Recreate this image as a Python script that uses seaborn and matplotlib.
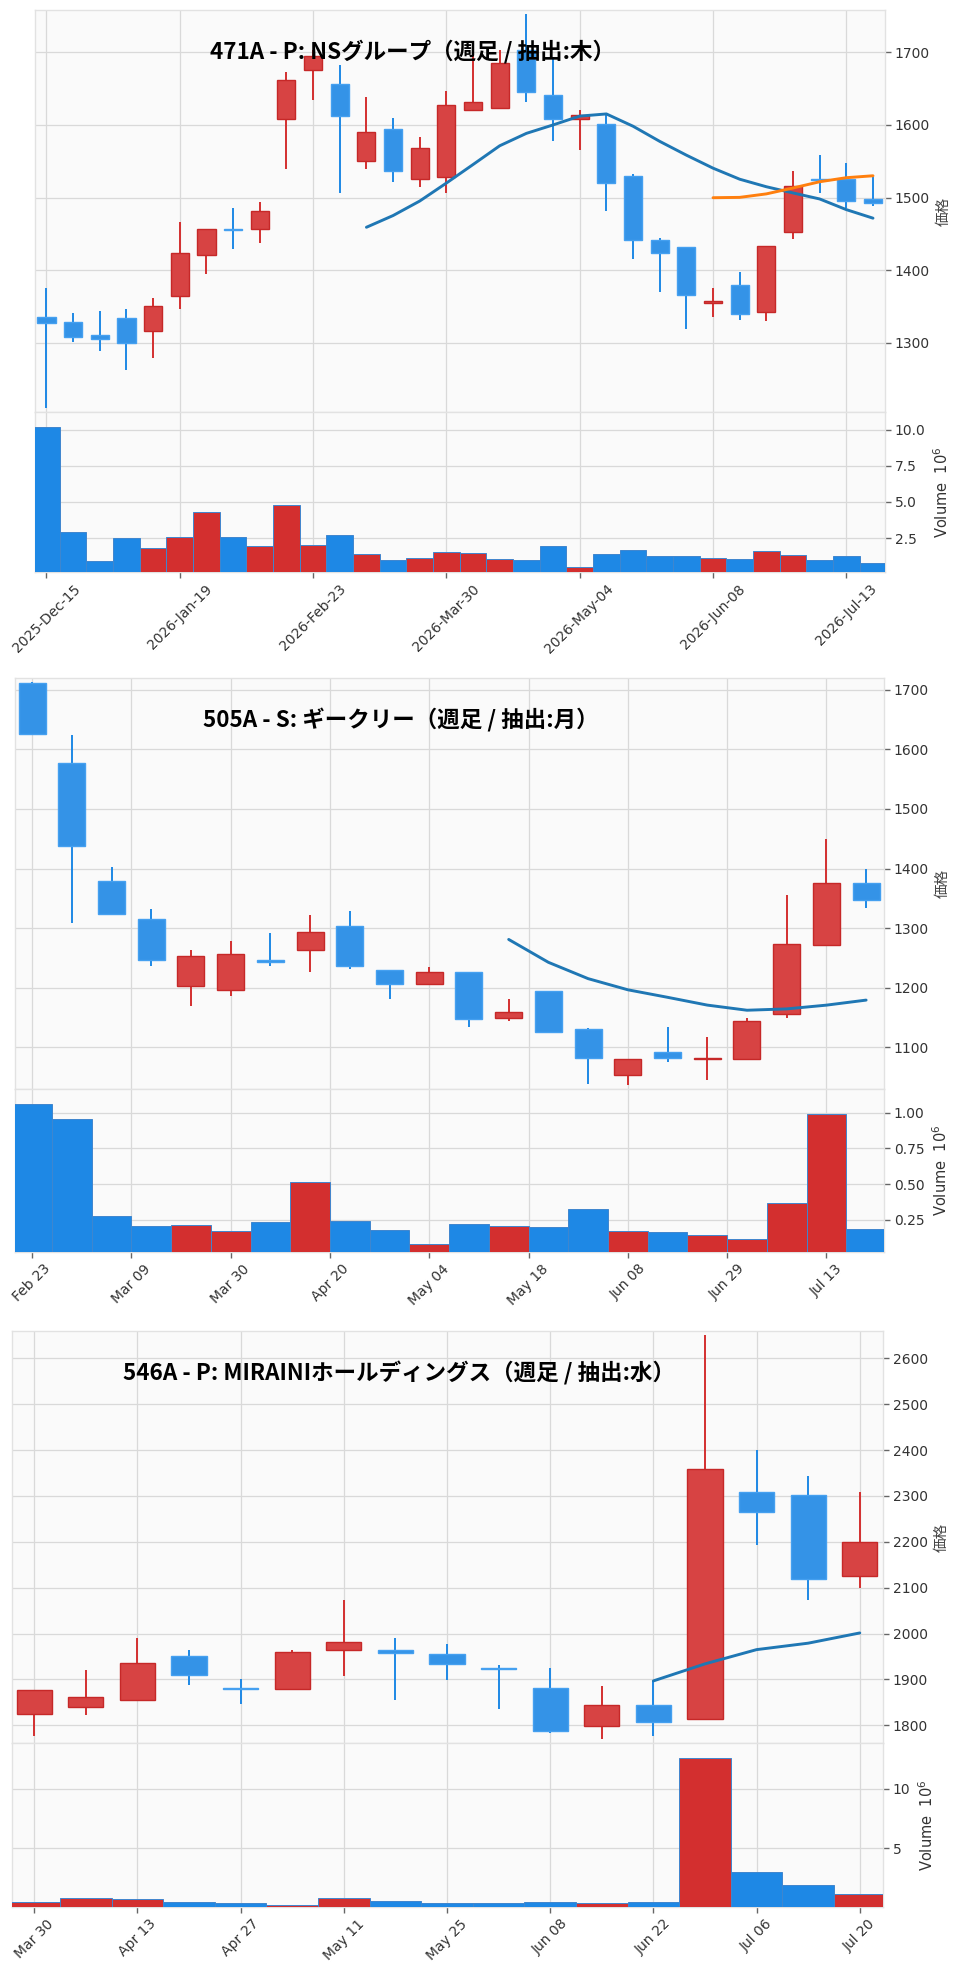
import numpy as np
import pandas as pd
import matplotlib
matplotlib.use("Agg")
import matplotlib.pyplot as plt
import seaborn as sns
from matplotlib.ticker import MultipleLocator, FixedLocator

# ---------------- data ----------------
title1 = "471A - P: NSグループ（週足 / 抽出:木）"
open1 = [1335, 1328, 1310, 1334, 1316, 1364, 1421, 1457, 1457, 1608, 1676, 1657, 1550, 1595, 1525, 1528,
         1621, 1623, 1703, 1642, 1608, 1601, 1530, 1442, 1432, 1355, 1379, 1342, 1453, 1525, 1525, 1498]
high1 = [1376, 1341, 1344, 1347, 1361, 1466, 1457, 1485, 1494, 1673, 1704, 1683, 1638, 1609, 1583, 1647,
         1703, 1703, 1753, 1694, 1620, 1614, 1533, 1444, 1432, 1376, 1397, 1433, 1536, 1558, 1547, 1529]
low1 = [1210, 1301, 1289, 1263, 1279, 1346, 1395, 1429, 1437, 1540, 1635, 1506, 1539, 1522, 1515, 1506,
        1620, 1623, 1632, 1578, 1566, 1482, 1415, 1370, 1319, 1335, 1332, 1330, 1443, 1506, 1485, 1489]
close1 = [1327, 1308, 1305, 1300, 1350, 1424, 1457, 1456, 1481, 1662, 1695, 1613, 1590, 1537, 1568, 1627,
          1632, 1686, 1646, 1608, 1614, 1520, 1442, 1424, 1366, 1357, 1339, 1433, 1516, 1524, 1495, 1493]
volume1 = [10.2, 2.93, 0.94, 2.50, 1.81, 2.61, 4.28, 2.59, 1.95, 4.81, 2.04, 2.73, 1.42, 1.01, 1.10, 1.54,
           1.47, 1.08, 0.99, 1.97, 0.53, 1.40, 1.65, 1.29, 1.29, 1.13, 1.06, 1.61, 1.33, 1.01, 1.26, 0.81]
ticks1 = [0, 5, 10, 15, 20, 25, 30]
ticklabels1 = ["2025-Dec-15", "2026-Jan-19", "2026-Feb-23", "2026-Mar-30",
               "2026-May-04", "2026-Jun-08", "2026-Jul-13"]

title2 = "505A - S: ギークリー（週足 / 抽出:月）"
open2 = [1711, 1577, 1379, 1315, 1203, 1196, 1246, 1264, 1304, 1230, 1207, 1226, 1150, 1194, 1131, 1053,
         1093, 1080, 1080, 1156, 1271, 1375]
high2 = [1713, 1624, 1402, 1333, 1264, 1279, 1292, 1322, 1329, 1230, 1235, 1226, 1182, 1194, 1133, 1080,
         1135, 1118, 1149, 1355, 1449, 1399]
low2 = [1625, 1309, 1323, 1236, 1170, 1186, 1236, 1226, 1232, 1181, 1207, 1135, 1144, 1126, 1038, 1037,
        1075, 1046, 1080, 1150, 1271, 1334]
close2 = [1625, 1438, 1323, 1246, 1253, 1256, 1244, 1293, 1237, 1207, 1226, 1148, 1159, 1126, 1082, 1080,
          1082, 1083, 1144, 1273, 1375, 1347]
volume2 = [1.061, 0.954, 0.280, 0.204, 0.211, 0.169, 0.238, 0.518, 0.243, 0.176, 0.081, 0.222, 0.208,
           0.197, 0.324, 0.169, 0.165, 0.141, 0.118, 0.365, 0.991, 0.188]
ticks2 = [0, 2.5, 5, 7.5, 10, 12.5, 15, 17.5, 20]
ticklabels2 = ["Feb 23", "Mar 09", "Mar 30", "Apr 20", "May 04", "May 18", "Jun 08", "Jun 29", "Jul 13"]

title3 = "546A - P: MIRAINIホールディングス（週足 / 抽出:水）"
open3 = [1825, 1840, 1855, 1952, 1881, 1880, 1965, 1964, 1955, 1924, 1882, 1799, 1844, 1813, 2309, 2302, 2125]
high3 = [1876, 1920, 1991, 1964, 1900, 1965, 2073, 1990, 1978, 1931, 1925, 1886, 1896, 2651, 2400, 2343, 2308]
low3 = [1776, 1822, 1855, 1887, 1847, 1880, 1907, 1856, 1898, 1835, 1783, 1770, 1776, 1813, 2192, 2072, 2100]
close3 = [1876, 1862, 1936, 1909, 1880, 1960, 1982, 1957, 1933, 1922, 1788, 1844, 1807, 2359, 2266, 2119, 2199]
volume3 = [0.47, 0.83, 0.75, 0.47, 0.39, 0.25, 0.83, 0.58, 0.44, 0.44, 0.53, 0.44, 0.50, 12.56, 3.00, 1.89, 1.17]
ticks3 = [0, 2, 4, 6, 8, 10, 12, 14, 16]
ticklabels3 = ["Mar 30", "Apr 13", "Apr 27", "May 11", "May 25", "Jun 08", "Jun 22", "Jul 06", "Jul 20"]

# ---------------- style ----------------
sns.set_theme(style="whitegrid")
plt.rcParams["font.family"] = ["DejaVu Sans", "Noto Sans CJK JP"]
CJK = ["Noto Sans CJK JP", "DejaVu Sans"]

UP_FILL, DN_FILL = "#d74343", "#3493e7"
UP_EDGE, DN_EDGE = "#c62828", "#45a0f0"
UP_WICK, DN_WICK = "#d32f2f", "#1e88e5"
UP_VOL, DN_VOL = "#d32f2f", "#1e88e5"
VOL_EDGE = "#3f86cf"
FACE = "#fafafa"
GRID = "#d9d9d9"
SPINE = "#e2e2e2"

W, H = 960, 1975
fig = plt.figure(figsize=(W / 100, H / 100), dpi=100)
fig.patch.set_facecolor("white")


def rect(left, right, top, bottom):
    return [left / W, 1 - bottom / H, (right - left) / W, (bottom - top) / H]


def style_ax(ax):
    ax.set_facecolor(FACE)
    ax.grid(True, color=GRID, linewidth=0.9)
    ax.set_axisbelow(True)
    for s in ax.spines.values():
        s.set_edgecolor(SPINE)
        s.set_linewidth(1.0)


def panel(o, h, l, c, v, ticks, ticklabels, title, title_xy,
          left, right, top, mid, bottom, price_step, vol_step, mavs):
    o, h, l, c, v = map(np.asarray, (o, h, l, c, v))
    n = len(o)
    x = np.arange(n)
    xlim = (-0.43, n - 1 + 0.45)

    axp = fig.add_axes(rect(left, right, top, mid))
    axv = fig.add_axes(rect(left, right, mid, bottom))
    for ax in (axp, axv):
        style_ax(ax)
        ax.set_xlim(*xlim)
        ax.xaxis.set_major_locator(FixedLocator(ticks))

    up = c >= o
    axp.vlines(x, l, h, colors=np.where(up, UP_WICK, DN_WICK), linewidth=1.4, zorder=2)
    axp.bar(x, np.maximum(np.abs(c - o), 0.5), bottom=np.minimum(o, c), width=0.68,
            color=np.where(up, UP_FILL, DN_FILL), edgecolor=np.where(up, UP_EDGE, DN_EDGE),
            linewidth=1.0, zorder=3)
    ma_colors = ["#1f77b4", "#ff7f0e"]
    for k, m in enumerate(mavs):
        s = pd.Series(c).rolling(m).mean()
        ok = s.notna().values
        if ok.any():
            sns.lineplot(x=x[ok], y=s.values[ok], ax=axp, color=ma_colors[k], linewidth=2.1, zorder=4)

    rng = l.min(), h.max()
    pad = (rng[1] - rng[0]) * 0.01
    axp.set_ylim(rng[0] - pad, rng[1] + pad)
    axp.yaxis.set_major_locator(MultipleLocator(price_step))
    axp.yaxis.tick_right()
    axp.yaxis.set_label_position("right")
    axp.tick_params(axis="y", which="major", right=True, left=False, length=4, width=1,
                    color="#666666", labelsize=10, labelcolor="#333333", pad=3)
    axp.tick_params(axis="x", bottom=False, labelbottom=False)
    axp.set_xlabel("")
    axp.set_ylabel("価格", fontsize=10.5, color="#444444", family=CJK, labelpad=5)

    axv.bar(x, v, width=1.0, color=np.where(up, UP_VOL, DN_VOL), edgecolor=VOL_EDGE,
            linewidth=0.7, zorder=3)
    axv.set_ylim(v.min() * 0.3, v.max() * 1.1)
    axv.yaxis.set_major_locator(MultipleLocator(vol_step))
    axv.yaxis.tick_right()
    axv.yaxis.set_label_position("right")
    axv.tick_params(axis="y", right=True, left=False, length=4, width=1,
                    color="#666666", labelsize=10, labelcolor="#333333", pad=3)
    axv.tick_params(axis="x", bottom=True, length=4, width=1, color="#666666",
                    labelsize=10, labelcolor="#333333", pad=3)
    axv.set_xticklabels(ticklabels, rotation=45, ha="center")
    axv.set_ylabel("Volume  $10^{6}$", fontsize=10.5, color="#333333", labelpad=5)

    fig.text(title_xy[0] / W, 1 - title_xy[1] / H, title, ha="center", va="center",
             fontsize=16.2, fontweight="bold", color="black", family=CJK, zorder=10)


panel(open1, high1, low1, close1, volume1, ticks1, ticklabels1, title1, (413, 52),
      35, 885, 10, 412, 572, 100, 2.5, [13, 26])
panel(open2, high2, low2, close2, volume2, ticks2, ticklabels2, title2, (401, 720),
      15, 884, 678, 1089, 1252, 100, 0.25, [13, 26])
panel(open3, high3, low3, close3, volume3, ticks3, ticklabels3, title3, (399, 1373),
      12, 883, 1331, 1743, 1907, 100, 5, [13, 26])

fig.savefig("out.png", dpi=100, facecolor="white")
